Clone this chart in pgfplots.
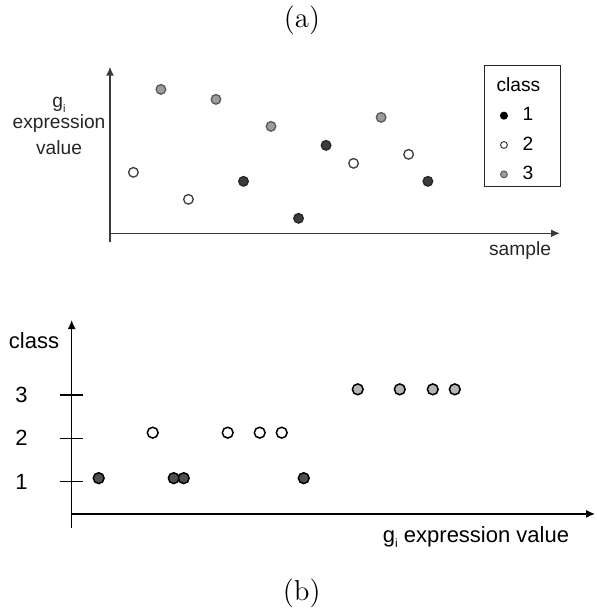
\documentclass[border=0pt]{standalone}
\usepackage{fontspec}
\usepackage{pgfplots}
\pgfplotsset{compat=1.18}
\usetikzlibrary{arrows.meta}
\newfontfamily\arial{Liberation Sans}

\definecolor{axA}{HTML}{3A3A3A}
\definecolor{darkA}{HTML}{3C3C3C}
\definecolor{grayA}{HTML}{9C9C9C}
\definecolor{darkB}{HTML}{505050}
\definecolor{grayB}{HTML}{B4B4B4}

\newcommand\fa{\arial\fontsize{9.6}{11.5}\selectfont}
\newcommand\fb{\arial\fontsize{11}{13}\selectfont}
\newcommand\gsub[1]{g\raisebox{-0.45ex}{\fontsize{#1}{#1}\selectfont i}}

% a single dot as legend image, with a little room on each side
\pgfplotsset{dotlegend/.style={legend image code/.code={%
  \node[draw=none, fill=none, inner sep=0pt, minimum width=6pt] at (0pt,0pt) {};
  \draw[##1] plot coordinates {(0pt,0pt)};}}}

\begin{document}
\begin{tikzpicture}[x=1pt,y=1pt]
\path[use as bounding box] (0,0) rectangle (298,305.5);

% panel captions
\node[font=\fontsize{14.4}{17}\selectfont] at (151,295.5) {(a)};
\node[font=\fontsize{14.4}{17}\selectfont] at (150.85,8.85) {(b)};

% ---------- (a) expression of g_i per sample ----------
\begin{axis}[
  at={(55pt,184.65pt)}, anchor=south west,
  scale only axis, width=225pt, height=87.5pt,
  xmin=0.15, xmax=16.5, ymin=-0.84, ymax=16.67,
  axis x line=none, axis y line=left,
  y axis line style={draw=axA, line width=0.75pt, -{Latex[length=4.5pt,width=4pt]}},
  ytick=\empty, xtick=\empty,
  clip=false,
  legend style={at={(axis description cs:1.002,1.01)}, anchor=north east,
    draw=black!85, line width=0.6pt, font=\fa, row sep=2.5pt,
    inner xsep=8pt, inner ysep=0pt},
  legend cell align=left,
]
\draw[axA, line width=0.75pt, -{Latex[length=4.5pt,width=4pt]}]
  (axis cs:0.15,0) -- (axis cs:16.5,0);
% class 2
\addplot[only marks, mark=*, mark size=2.4pt, forget plot,
  mark options={fill=white, draw=darkA, line width=0.65pt}]
  coordinates {(1,6.1) (3,3.4) (9,7.0) (11,7.9)};
% class 3
\addplot[only marks, mark=*, mark size=2.4pt, forget plot,
  mark options={fill=grayA, draw=black!65, line width=0.65pt}]
  coordinates {(2,14.4) (4,13.4) (6,10.7) (10,11.6)};
% class 1
\addplot[only marks, mark=*, mark size=2.4pt, forget plot,
  mark options={fill=darkA, draw=black!85, line width=0.65pt}]
  coordinates {(5,5.2) (7,1.5) (8,8.8) (11.7,5.2)};
\addlegendimage{empty legend}
\addlegendentry{\rule{0pt}{11pt}\hspace*{-12pt}class}
\addlegendimage{only marks, mark=*, mark size=1.7pt, dotlegend,
  mark options={fill=black, draw=black}}
\addlegendentry{\hspace*{1pt}1}
\addlegendimage{only marks, mark=*, mark size=1.7pt, dotlegend,
  mark options={fill=white, draw=darkA, line width=0.5pt}}
\addlegendentry{\hspace*{1pt}2}
\addlegendimage{only marks, mark=*, mark size=1.7pt, dotlegend,
  mark options={fill=grayA, draw=black!65, line width=0.5pt}}
\addlegendentry{\hspace*{1pt}3}
\end{axis}

\node[font=\fa, text=black!85] at (29.5,253) {\gsub{5.5}};
\node[font=\fa, text=black!85] at (29.5,243.5) {expression};
\node[font=\fa, text=black!85] at (29.5,231.5) {value};
\node[font=\fa, text=black!85] at (260,180) {sample};

% ---------- (b) class against g_i expression ----------
\begin{axis}[
  at={(35.85pt,41.5pt)}, anchor=south west,
  scale only axis, width=261.65pt, height=104pt,
  xmin=0, xmax=52.33, ymin=-0.07, ymax=4.73,
  axis x line=none, axis y line=left,
  y axis line style={draw=black, line width=0.7pt, -{Latex[length=4.5pt,width=4pt]}},
  ytick={1,2,3}, yticklabels={1,2,3}, xtick=\empty,
  tick align=center, major tick length=11.65pt,
  every tick/.style={black, line width=0.7pt},
  yticklabel style={font=\fb, anchor=east, inner sep=0pt, xshift=-16pt},
  clip=false,
]
\draw[black, line width=0.7pt, -{Latex[length=4.5pt,width=4pt]}]
  (axis cs:0,0.255) -- (axis cs:52.33,0.255);
% class 1
\addplot[only marks, mark=*, mark size=2.7pt,
  mark options={fill=darkB, draw=black, line width=0.75pt}]
  coordinates {(2.7,1.08) (10.2,1.08) (11.2,1.08) (23.2,1.08)};
% class 2
\addplot[only marks, mark=*, mark size=2.7pt,
  mark options={fill=white, draw=black, line width=0.75pt}]
  coordinates {(8.1,2.13) (15.6,2.13) (18.8,2.13) (21.0,2.13)};
% class 3
\addplot[only marks, mark=*, mark size=2.7pt,
  mark options={fill=grayB, draw=black, line width=0.75pt}]
  coordinates {(28.6,3.13) (32.8,3.13) (36.1,3.13) (38.3,3.13)};
\end{axis}

\node[font=\fb] at (17,135) {class};
\node[font=\fb] at (238,37) {\gsub{6} expression value};

\end{tikzpicture}
\end{document}
